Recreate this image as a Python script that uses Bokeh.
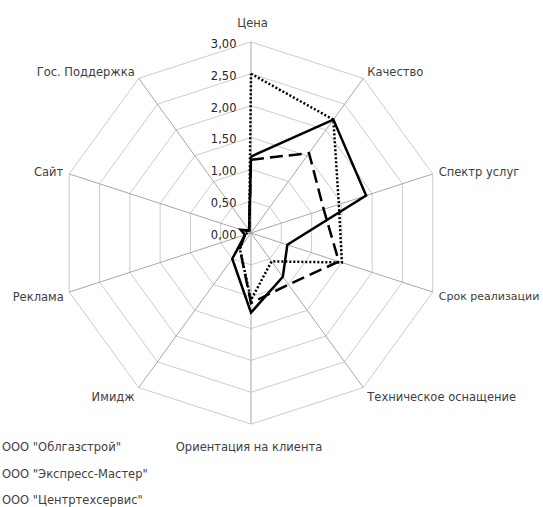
import numpy as np
from bokeh.plotting import figure
from bokeh.models import Range1d
from bokeh.core.properties import value
from bokeh.embed import file_html
from bokeh.resources import INLINE

# ---- data ----
categories = ["Цена", "Качество", "Спектр услуг", "Срок реализации",
              "Техническое оснащение", "Ориентация на клиента", "Имидж",
              "Реклама", "Сайт", "Гос. Поддержка"]
series_names = ['ООО "Облгазстрой"', 'ООО "Экспресс-Мастер"', 'ООО "Центртехсервис"']
oblgazstroy = [1.2, 2.2, 1.9, 0.6, 0.85, 1.25, 0.5, 0.1, 0.17, 0.05]
express_master = [1.15, 1.55, 1.2, 1.45, 1.0, 1.1, 0.3, 0.1, 0.1, 0.05]
centrtehservis = [2.5, 2.2, 1.45, 1.5, 0.55, 1.05, 0.3, 0.1, 0.05, 0.05]
tick_values = [0.0, 0.5, 1.0, 1.5, 2.0, 2.5, 3.0]
tick_labels = ["0,00", "0,50", "1,00", "1,50", "2,00", "2,50", "3,00"]

# ---- layout / style ----
W, H = 543, 507
UNIT = 63.7            # px per value unit
CX, CY = 250.5, 232.5  # centre in figure pixels
FONT = "DejaVu Sans"

p = figure(width=W, height=H, output_backend="svg", toolbar_location=None,
           x_range=Range1d(-CX / UNIT, (W - CX) / UNIT),
           y_range=Range1d(-(H - CY) / UNIT, CY / UNIT),
           min_border=0)
p.axis.visible = False
p.grid.visible = False
p.outline_line_color = None
p.background_fill_color = "white"

n = len(categories)
theta = np.deg2rad(np.arange(n) * 360.0 / n)
sx, sy = np.sin(theta), np.cos(theta)
rmax = tick_values[-1]

# rings
for tv in tick_values[1:]:
    xs = list(tv * sx) + [tv * sx[0]]
    ys = list(tv * sy) + [tv * sy[0]]
    p.line(xs, ys, line_color="#cccccc", line_width=1)

# spokes
p.segment(x0=[0] * n, y0=[0] * n, x1=list(rmax * sx), y1=list(rmax * sy),
          line_color="#a8a8a8", line_width=1)

# series
styles = [dict(line_dash="solid"), dict(line_dash="13 6"), dict(line_dash="2 2")]
for vals, st in zip([oblgazstroy, express_master, centrtehservis], styles):
    v = np.array(vals)
    xs = list(v * sx) + [v[0] * sx[0]]
    ys = list(v * sy) + [v[0] * sy[0]]
    p.line(xs, ys, line_color="black", line_width=2.5, line_join="miter", **st)

# category labels
offs = [(1.5, -18.5, "center"), (4, -6, "left"), (6, -1.5, "left"), (6, 4.5, "left"),
        (4, 9, "left"), (-2, 22.5, "center"), (-4, 9, "right"), (-5.5, 4.5, "right"),
        (-6, -1.5, "right"), (-4, -6, "right")]
sizes = ["11.5px", "11.5px", "11.5px", "11px", "11.5px", "11.5px", "11.5px",
         "11.5px", "11.5px", "11.5px"]
for i, cat in enumerate(categories):
    ox, oy, al = offs[i]
    p.text(x=[rmax * sx[i]], y=[rmax * sy[i]], text=[cat], x_offset=ox, y_offset=oy,
           text_align=al, text_baseline="middle", text_font=value(FONT),
           text_font_size=sizes[i], text_color="#404040")

# tick labels
p.text(x=[-0.228] * len(tick_values), y=tick_values, text=tick_labels,
       y_offset=1.5, text_align="right", text_baseline="middle",
       text_font=value(FONT), text_font_size="11.5px", text_color="#262626")

# legend
leg_y = [(CY - 446) / UNIT, (CY - 473) / UNIT, (CY - 499.5) / UNIT]
leg_x = (1.5 - CX) / UNIT
p.text(x=[leg_x] * 3, y=leg_y, text=series_names, text_align="left",
       text_baseline="middle", text_font=value(FONT), text_font_size="11.5px",
       text_color="#404040")

open("out.html", "w").write(file_html(p, INLINE))
